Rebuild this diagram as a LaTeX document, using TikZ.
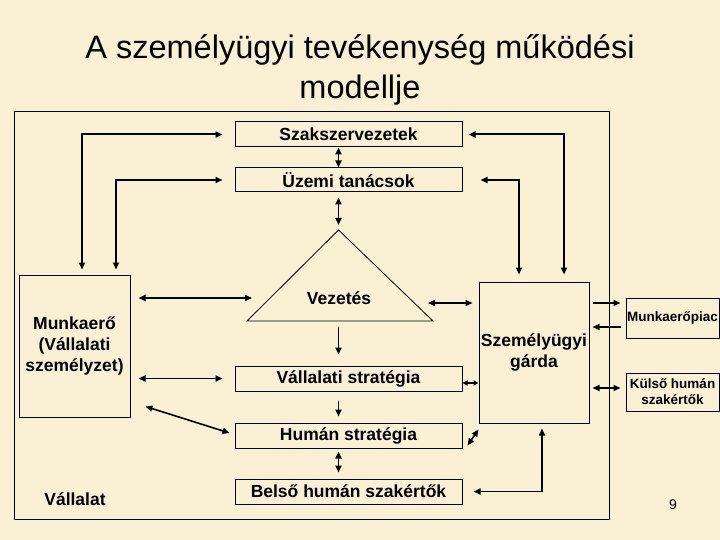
\documentclass[tikz,border=0pt]{standalone}
\usepackage{fontspec}
\setmainfont{Liberation Sans}
\usepackage{xcolor}
\usepackage{tikz}
\usetikzlibrary{arrows.meta}
\definecolor{parchment}{RGB}{250,240,212}

\begin{document}
\begin{tikzpicture}[x=1pt, y=-1pt,
    box/.style={draw, line width=1pt, inner sep=0pt, minimum width=227pt, minimum height=25pt, font=\fontsize{17.5}{21}\selectfont\bfseries, align=center},
    bigbox/.style={draw, line width=1pt, inner sep=0pt, font=\fontsize{17.5}{21}\selectfont\bfseries, align=center},
    sidebox/.style={draw, line width=1pt, inner sep=0pt, minimum width=93pt, font=\fontsize{13.5}{16}\selectfont\bfseries, align=center},
    lab/.style={font=\fontsize{17.5}{21}\selectfont\bfseries, align=center},
    arr/.style={-{Triangle[length=7pt,width=6pt]}, line width=1.6pt},
    arrs/.style={{Triangle[length=7pt,width=6pt]}-{Triangle[length=7pt,width=6pt]}, line width=1.6pt},
    arrl/.style={arrs, line width=2pt},
    arrt/.style={{Triangle[length=5pt,width=5pt]}-{Triangle[length=5pt,width=5pt]}, line width=1.6pt},
]

% Background and frame of the company
\useasboundingbox (0,0) rectangle (720,540);
\fill[parchment] (0,0) rectangle (720,540);
\draw[line width=1pt] (14,112) rectangle (609,519);

% Title
\node[font=\fontsize{32.5}{40}\selectfont, align=center] (title) at (360,69.5) {A személyügyi tevékenység működési\\modellje};

% Middle column
\node[box] (szak) at (348.5,134.5) {Szakszervezetek};
\node[box, minimum height=24pt] (uzemi) at (348.5,180) {Üzemi tanácsok};
\node[box] (vstrat) at (348.5,378.5) {Vállalati stratégia};
\node[box] (hstrat) at (348.5,435.5) {Humán stratégia};
\node[box] (belso) at (348.5,491.5) {Belső humán szakértők};

% Management triangle
\coordinate (apex) at (338.5,230);
\coordinate (tl) at (247,321);
\coordinate (tr) at (433,321);
\draw[line width=0.8pt] (apex) -- (tl) -- (tr) -- cycle;
\node[lab] (vez) at (339,298) {Vezetés};

% Side boxes
\node[bigbox, minimum width=111pt, minimum height=142pt] (munka) at (74.5,346) {Munkaerő\\(Vállalati\\személyzet)};
\node[bigbox, minimum width=110pt, minimum height=141pt] (gard) at (534,352.5) {Személyügyi\\gárda};
\node[sidebox, minimum height=40pt] (piac) at (672.5,318) {Munkaerőpiac};
\node[sidebox, minimum height=38pt] (kulso) at (672.5,392) {Külső humán\\szakértők};

\node[lab] (vallalat) at (75,499) {Vállalat};
\node[font=\fontsize{14}{16}\selectfont] (oldal) at (673,505) {9};

% Connections to the unions and works councils
\draw[arrl] ([xshift=-12pt]szak.west) -| ([xshift=7.5pt,yshift=5pt]munka.north);
\draw[arrl] ([xshift=-12pt]uzemi.west) -| ([xshift=41.5pt,yshift=5pt]munka.north);
\draw[arrl] ([xshift=6pt]szak.east) -| ([xshift=30pt,yshift=7pt]gard.north);
\draw[arrl] ([xshift=18pt]uzemi.east) -| ([xshift=-15pt,yshift=7pt]gard.north);
\draw[arrs] ([xshift=-10pt]szak.south) -- ([xshift=-10pt]uzemi.north);
\draw[arrs] ([xshift=-10pt,yshift=-5pt]uzemi.south) -- ([yshift=5pt]apex);

% Down the middle
\draw[arr] ([yshift=-6pt]apex |- tl) -- ([xshift=-10pt,yshift=11pt]vstrat.north);
\draw[arr] ([xshift=-10pt,yshift=-9pt]vstrat.south) -- ([xshift=-10pt,yshift=6pt]hstrat.north);
\draw[arrs] ([xshift=-10pt,yshift=-3pt]hstrat.south) -- ([xshift=-10pt,yshift=6pt]belso.north);

% Workforce links
\draw[arrs] ([xshift=8pt]munka.east |- vez.center) -- ([xshift=5pt]tl |- vez.center);
\draw[arrs] ([xshift=8pt]munka.east |- vstrat.west) -- ([xshift=-12pt]vstrat.west);
\draw[arrs] ([xshift=15pt,yshift=11pt]munka.south east) -- ([xshift=-5pt,yshift=2.5pt]hstrat.west);

% HR staff links
\draw[arrs] ([xshift=-5pt,yshift=-5pt]tr |- vez.center) -- ([xshift=-6pt,yshift=-5pt]gard.west |- vez.center);
\draw[arrt] ([yshift=-4.5pt]vstrat.east) -- ([yshift=-4.5pt]gard.west |- vstrat.east);
\draw[arrs] ([xshift=5pt,yshift=3pt]hstrat.south east) -- ([yshift=-6pt]gard.south west);
\draw[arrs] ([xshift=8pt,yshift=-5pt]gard.south) |- ([xshift=11pt]belso.east);

% Outside the company
\draw[arr] ([xshift=3pt,yshift=15pt]gard.east |- piac.west) -- ([xshift=-5pt,yshift=15pt]piac.west);
\draw[arr] ([xshift=-5pt,yshift=-9pt]piac.west) -- ([xshift=3pt,yshift=-9pt]gard.east |- piac.west);
\draw[arrs] ([xshift=3pt,yshift=4pt]gard.east |- kulso.west) -- ([xshift=-5pt,yshift=4pt]kulso.west);

\end{tikzpicture}
\end{document}
